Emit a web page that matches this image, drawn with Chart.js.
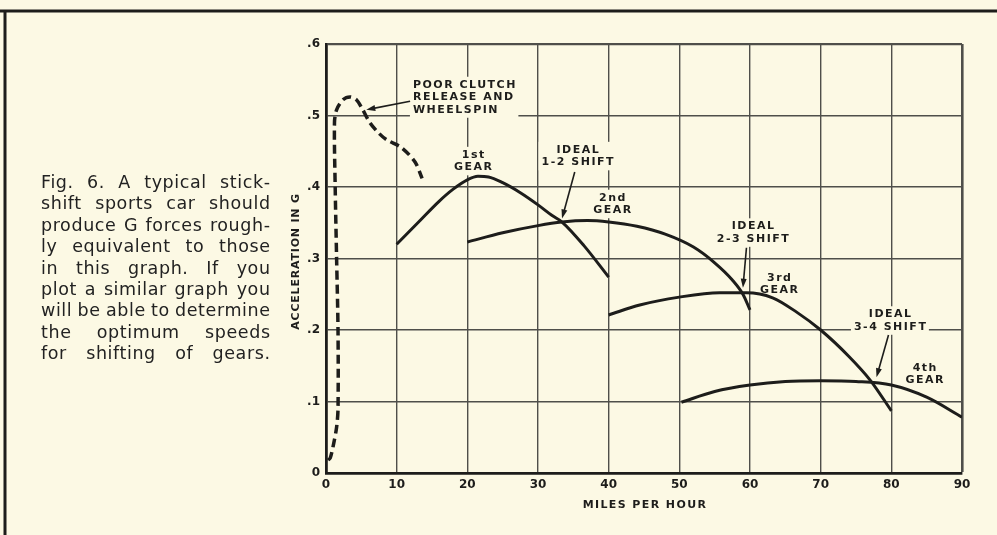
<!DOCTYPE html>
<html>
<head>
<meta charset="utf-8">
<script src="https://cdn.jsdelivr.net/npm/chart.js@4.4.1/dist/chart.umd.min.js"></script>
<style>
  html, body { margin: 0; padding: 0; background: #fcf9e4; }
  #wrap { width: 997px; height: 535px; }
</style>
</head>
<body>
<div id="wrap"><canvas id="g-forces" width="997" height="535"></canvas></div>
<script>
// axis ticks
const mphTicks = [0, 10, 20, 30, 40, 50, 60, 70, 80, 90];
const gTicks = [0, 0.1, 0.2, 0.3, 0.4, 0.5, 0.6];
const gTickLabels = ["0", ".1", ".2", ".3", ".4", ".5", ".6"];

// poor clutch release and wheelspin (dashed)
const clutchMph = [0.3, 0.6, 1.0, 1.5, 1.7, 1.7, 1.5, 1.3, 1.2, 1.5, 2.4, 3.4, 4.3, 5.1, 6.2, 7.5, 8.6, 10.7, 12.6, 13.6];
const clutchG = [0.018, 0.021, 0.037, 0.064, 0.09, 0.2, 0.3, 0.4, 0.49, 0.508, 0.522, 0.526, 0.522, 0.51, 0.49, 0.475, 0.466, 0.455, 0.435, 0.412];

const firstGearMph = [10, 13, 16, 18, 20, 21.5, 23, 25, 27.5, 30, 32, 33.4, 36.5, 40];
const firstGearG = [0.32, 0.35, 0.38, 0.397, 0.41, 0.415, 0.414, 0.406, 0.392, 0.375, 0.36, 0.351, 0.318, 0.274];

const secondGearMph = [20, 25, 30, 33.4, 37, 40, 44, 48, 52, 55, 57.5, 59, 60];
const secondGearG = [0.323, 0.336, 0.346, 0.351, 0.353, 0.351, 0.345, 0.334, 0.316, 0.294, 0.27, 0.25, 0.228];

const thirdGearMph = [40, 44.4, 50, 55.7, 59.5, 63.2, 66.6, 70, 74, 77, 80];
const thirdGearG = [0.221, 0.235, 0.246, 0.252, 0.252, 0.245, 0.225, 0.2, 0.163, 0.13, 0.087];

const fourthGearMph = [50.3, 55, 60, 65, 70, 75, 80, 85, 90];
const fourthGearG = [0.099, 0.114, 0.123, 0.128, 0.129, 0.128, 0.123, 0.106, 0.078];

const captionLines = [
    "Fig. 6. A typical stick-",
    "shift sports car should",
    "produce G forces rough-",
    "ly equivalent to those",
    "in this graph. If you",
    "plot a similar graph you",
    "will be able to determine",
    "the optimum speeds",
    "for shifting of gears.",
];

const notes = [
    { lines: ["POOR CLUTCH", "RELEASE AND", "WHEELSPIN"], x: 12.3, y: 0.543, align: "left" },
    { lines: ["1st", "GEAR"], x: 20.8, y: 0.445 },
    { lines: ["IDEAL", "1-2 SHIFT"], x: 35.6, y: 0.452 },
    { lines: ["2nd", "GEAR"], x: 40.5, y: 0.385 },
    { lines: ["IDEAL", "2-3 SHIFT"], x: 60.4, y: 0.345 },
    { lines: ["3rd", "GEAR"], x: 64.1, y: 0.273 },
    { lines: ["IDEAL", "3-4 SHIFT"], x: 79.8, y: 0.222 },
    { lines: ["4th", "GEAR"], x: 84.7, y: 0.147 },
];

const arrows = [
    { from: [11.9, 0.52], to: [5.7, 0.508] },
    { from: [35.2, 0.421], to: [33.4, 0.356] },
    { from: [59.5, 0.315], to: [59.0, 0.259] },
    { from: [79.6, 0.193], to: [77.9, 0.134] },
];

const INK = "#1d1d1b";
const GRID = "#4f4f4a";
const PAPER = "#fcf9e4";
const NOTE_FONT = 'bold 11px "DejaVu Sans"';
const NOTE_SPACING = 1.5;

const toPoints = (xs, ys) => xs.map((x, i) => ({ x: x, y: ys[i] }));

const gearLine = (label, xs, ys) => ({
    label: label,
    data: toPoints(xs, ys),
    showLine: true,
    borderColor: INK,
    borderWidth: 3,
    pointRadius: 0,
    cubicInterpolationMode: "monotone",
});

// paper, frame, caption, notes
const pagePlugin = {
    id: "page",
    beforeDraw(chart) {
        const ctx = chart.ctx;
        ctx.save();
        ctx.fillStyle = PAPER;
        ctx.fillRect(0, 0, chart.width, chart.height);
        ctx.fillStyle = INK;
        ctx.fillRect(0, 9.5, chart.width, 3);
        ctx.fillRect(3.5, 11, 3, chart.height - 11);

        // justified caption
        ctx.font = '17.5px "DejaVu Sans"';
        ctx.letterSpacing = "0.6px";
        ctx.fillStyle = "#222";
        ctx.textBaseline = "alphabetic";
        const left = 41, right = 270;
        captionLines.forEach((line, i) => {
            const words = line.split(" ");
            const widths = words.map((w) => ctx.measureText(w).width - 0.6);
            const sum = widths.reduce((a, b) => a + b, 0);
            const gap = words.length > 1 ? (right - left - sum) / (words.length - 1) : 0;
            let x = left;
            const y = 188 + i * 21.4;
            words.forEach((w, j) => {
                ctx.fillText(w, x, y);
                x += widths[j] + gap;
            });
        });
        ctx.restore();
    },
    beforeDatasetsDraw(chart) {
        // knock the grid out behind each label
        const ctx = chart.ctx;
        const sx = chart.scales.x, sy = chart.scales.y;
        ctx.save();
        ctx.font = NOTE_FONT;
        ctx.letterSpacing = NOTE_SPACING + "px";
        ctx.fillStyle = PAPER;
        notes.forEach((n) => {
            const w = Math.max(...n.lines.map((l) => ctx.measureText(l).width)) - NOTE_SPACING;
            const px = sx.getPixelForValue(n.x);
            const py = sy.getPixelForValue(n.y);
            const x0 = n.align === "left" ? px : px - w / 2;
            ctx.fillRect(x0 - 3, py - 8, w + 6, 12.5 * (n.lines.length - 1) + 16);
        });
        ctx.restore();
    },
    afterDatasetsDraw(chart) {
        const ctx = chart.ctx;
        const sx = chart.scales.x, sy = chart.scales.y;
        const area = chart.chartArea;
        ctx.save();
        ctx.fillStyle = INK;
        ctx.strokeStyle = INK;
        ctx.font = NOTE_FONT;
        ctx.letterSpacing = NOTE_SPACING + "px";
        ctx.textBaseline = "middle";
        notes.forEach((n) => {
            const px = sx.getPixelForValue(n.x);
            const py = sy.getPixelForValue(n.y);
            n.lines.forEach((l, i) => {
                const w = ctx.measureText(l).width - NOTE_SPACING;
                const x = n.align === "left" ? px : px - w / 2;
                ctx.fillText(l, x, py + i * 12.5);
            });
        });

        ctx.lineWidth = 1.6;
        arrows.forEach((a) => {
            const x1 = sx.getPixelForValue(a.from[0]), y1 = sy.getPixelForValue(a.from[1]);
            const x2 = sx.getPixelForValue(a.to[0]), y2 = sy.getPixelForValue(a.to[1]);
            const ang = Math.atan2(y2 - y1, x2 - x1);
            ctx.beginPath();
            ctx.moveTo(x1, y1);
            ctx.lineTo(x2 - 6 * Math.cos(ang), y2 - 6 * Math.sin(ang));
            ctx.stroke();
            ctx.beginPath();
            ctx.moveTo(x2, y2);
            ctx.lineTo(x2 - 9 * Math.cos(ang) + 3 * Math.sin(ang), y2 - 9 * Math.sin(ang) - 3 * Math.cos(ang));
            ctx.lineTo(x2 - 9 * Math.cos(ang) - 3 * Math.sin(ang), y2 - 9 * Math.sin(ang) + 3 * Math.cos(ang));
            ctx.closePath();
            ctx.fill();
        });

        // axis titles
        ctx.textAlign = "center";
        ctx.letterSpacing = "1.4px";
        ctx.fillText("MILES PER HOUR", (area.left + area.right) / 2 + 1, area.bottom + 32);
        ctx.letterSpacing = "0.8px";
        ctx.translate(area.left - 30, (area.top + area.bottom) / 2 + 3);
        ctx.rotate(-Math.PI / 2);
        ctx.fillText("ACCELERATION IN G", 0, 0);
        ctx.restore();
    },
};

new Chart(document.querySelector("#g-forces"), {
    type: "scatter",
    data: {
        datasets: [
            {
                label: "Poor clutch release and wheelspin",
                data: toPoints(clutchMph, clutchG),
                showLine: true,
                borderColor: INK,
                borderWidth: 3.5,
                borderDash: [9, 5],
                pointRadius: 0,
                tension: 0.3,
            },
            gearLine("1st gear", firstGearMph, firstGearG),
            gearLine("2nd gear", secondGearMph, secondGearG),
            gearLine("3rd gear", thirdGearMph, thirdGearG),
            gearLine("4th gear", fourthGearMph, fourthGearG),
        ],
    },
    options: {
        responsive: false,
        animation: false,
        layout: { padding: { left: 280, right: 35, top: 44, bottom: 0 } },
        plugins: { legend: { display: false }, tooltip: { enabled: false } },
        scales: {
            x: {
                type: "linear",
                min: 0,
                max: 90,
                afterBuildTicks: (axis) => { axis.ticks = mphTicks.map((v) => ({ value: v })); },
                afterFit: (axis) => { axis.height = 62; },
                grid: {
                    color: GRID,
                    lineWidth: (c) => (c.index === mphTicks.length - 1 ? 2.6 : 1.4),
                    drawTicks: false,
                },
                border: { color: INK, width: 2.8 },
                ticks: {
                    padding: 5,
                    color: INK,
                    font: { family: "DejaVu Sans", size: 12, weight: "bold" },
                    callback: (v, i) => String(mphTicks[i]),
                    maxRotation: 0,
                    autoSkip: false,
                },
            },
            y: {
                min: 0,
                max: 0.6,
                afterBuildTicks: (axis) => { axis.ticks = gTicks.map((v) => ({ value: v })); },
                afterFit: (axis) => { axis.width = 46; },
                grid: {
                    color: GRID,
                    lineWidth: (c) => (c.index === gTicks.length - 1 ? 2.2 : 1.4),
                    drawTicks: false,
                },
                border: { color: INK, width: 2.8 },
                ticks: {
                    padding: 6,
                    color: INK,
                    font: { family: "DejaVu Sans", size: 12, weight: "bold" },
                    callback: (v, i) => gTickLabels[i],
                    autoSkip: false,
                },
            },
        },
    },
    plugins: [pagePlugin],
});
</script>
</body>
</html>
